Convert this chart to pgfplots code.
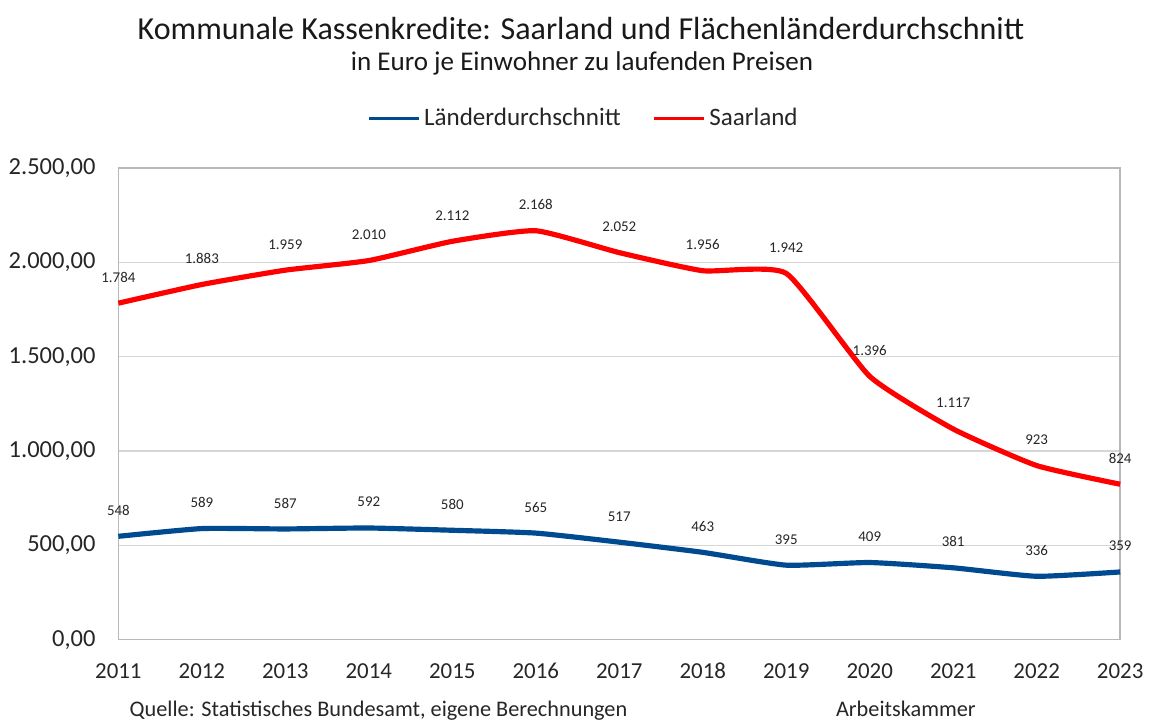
\documentclass[border=0pt]{standalone}
\usepackage{fontspec}
\setmainfont{Carlito}
\usepackage{pgfplots}
\usepackage{pgfplotstable}
\pgfplotsset{compat=1.18}
\definecolor{lblue}{HTML}{004A8F}
\definecolor{lred}{HTML}{FF0000}
\pgfplotstableread{
x y label
2011 548 548
2012 589 589
2013 587 587
2014 592 592
2015 580 580
2016 565 565
2017 517 517
2018 463 463
2019 395 395
2020 409 409
2021 381 381
2022 336 336
2023 359 359
}\laender
\pgfplotstableread{
x y label
2011 1784 1.784
2012 1883 1.883
2013 1959 1.959
2014 2010 2.010
2015 2112 2.112
2016 2168 2.168
2017 2052 2.052
2018 1956 1.956
2019 1942 1.942
2020 1396 1.396
2021 1117 1.117
2022 923 923
2023 824 824
}\saar
\begin{document}
\begin{tikzpicture}
\begin{axis}[
  scale only axis,
  width=503.5pt, height=237pt,
  xmin=2011, xmax=2023, ymin=0, ymax=2500,
  xtick={2011,2012,2013,2014,2015,2016,2017,2018,2019,2020,2021,2022,2023},
  xticklabels={2011,2012,2013,2014,2015,2016,2017,2018,2019,2020,2021,2022,2023},
  ytick={0,500,1000,1500,2000,2500},
  yticklabels={{0,00},{500,00},{1.000,00},{1.500,00},{2.000,00},{2.500,00}},
  /pgf/number format/assume math mode=true,
  xticklabel style={font=\fontsize{11.5}{13}\selectfont, anchor=north, text height=7.5pt, text depth=0pt, yshift=-8.5pt, text=black!85},
  yticklabel style={font=\fontsize{12.3}{14}\selectfont, xshift=-8pt, text=black!85},
  tick style={draw=none},
  ymajorgrids,
  grid style={draw=black!16, line width=0.7pt},
  axis line style={draw=black!28, line width=0.8pt},
  clip=false,
  legend columns=2,
  legend style={at={(axis description cs:0.4653,1.1055)}, anchor=center, draw=none, fill=none,
    font=\fontsize{12.6}{14}\selectfont, text=black!85,
    /tikz/every even column/.append style={column sep=14pt},
    inner sep=0pt},
  legend image code/.code={\draw[#1, line width=1.5pt] (0pt,0pt) -- (25pt,0pt);},
  nodes near coords={\pgfplotspointmeta},
  every node near coord/.append style={anchor=center, yshift=13pt, font=\fontsize{7.5}{9}\selectfont, text=black!85},
]
\addplot[lblue, line width=2.6pt, smooth, tension=0.3, line join=round, point meta=explicit symbolic] table[x=x, y=y, meta=label] {\laender};
\addlegendentry{Länderdurchschnitt}
\addplot[lred, line width=2.6pt, smooth, tension=0.3, line join=round, point meta=explicit symbolic] table[x=x, y=y, meta=label] {\saar};
\addlegendentry{Saarland}

\node[anchor=base, font=\fontsize{16.1}{19}\selectfont, text=black!90] at (axis description cs:0.4618,1.2722) {Kommunale Kassenkredite: Saarland und Flächenländerdurchschnitt};
\node[anchor=base, font=\fontsize{13.6}{16}\selectfont, text=black!90] at (axis description cs:0.4628,1.2068) {in Euro je Einwohner zu laufenden Preisen};
\node[anchor=base west, inner sep=0pt, font=\fontsize{11.2}{13}\selectfont, text=black!85] at (axis description cs:0.0109,-0.1624) {Quelle: Statistisches Bundesamt, eigene Berechnungen};
\node[anchor=base west, inner sep=0pt, font=\fontsize{11.2}{13}\selectfont, text=black!85] at (axis description cs:0.716,-0.1624) {Arbeitskammer};
\coordinate (bbsw) at (axis description cs:-0.11817,-0.17722);
\coordinate (bbne) at (axis description cs:1.02383,1.35654);
\end{axis}
\path (bbsw) rectangle (bbne);
\end{tikzpicture}
\end{document}
